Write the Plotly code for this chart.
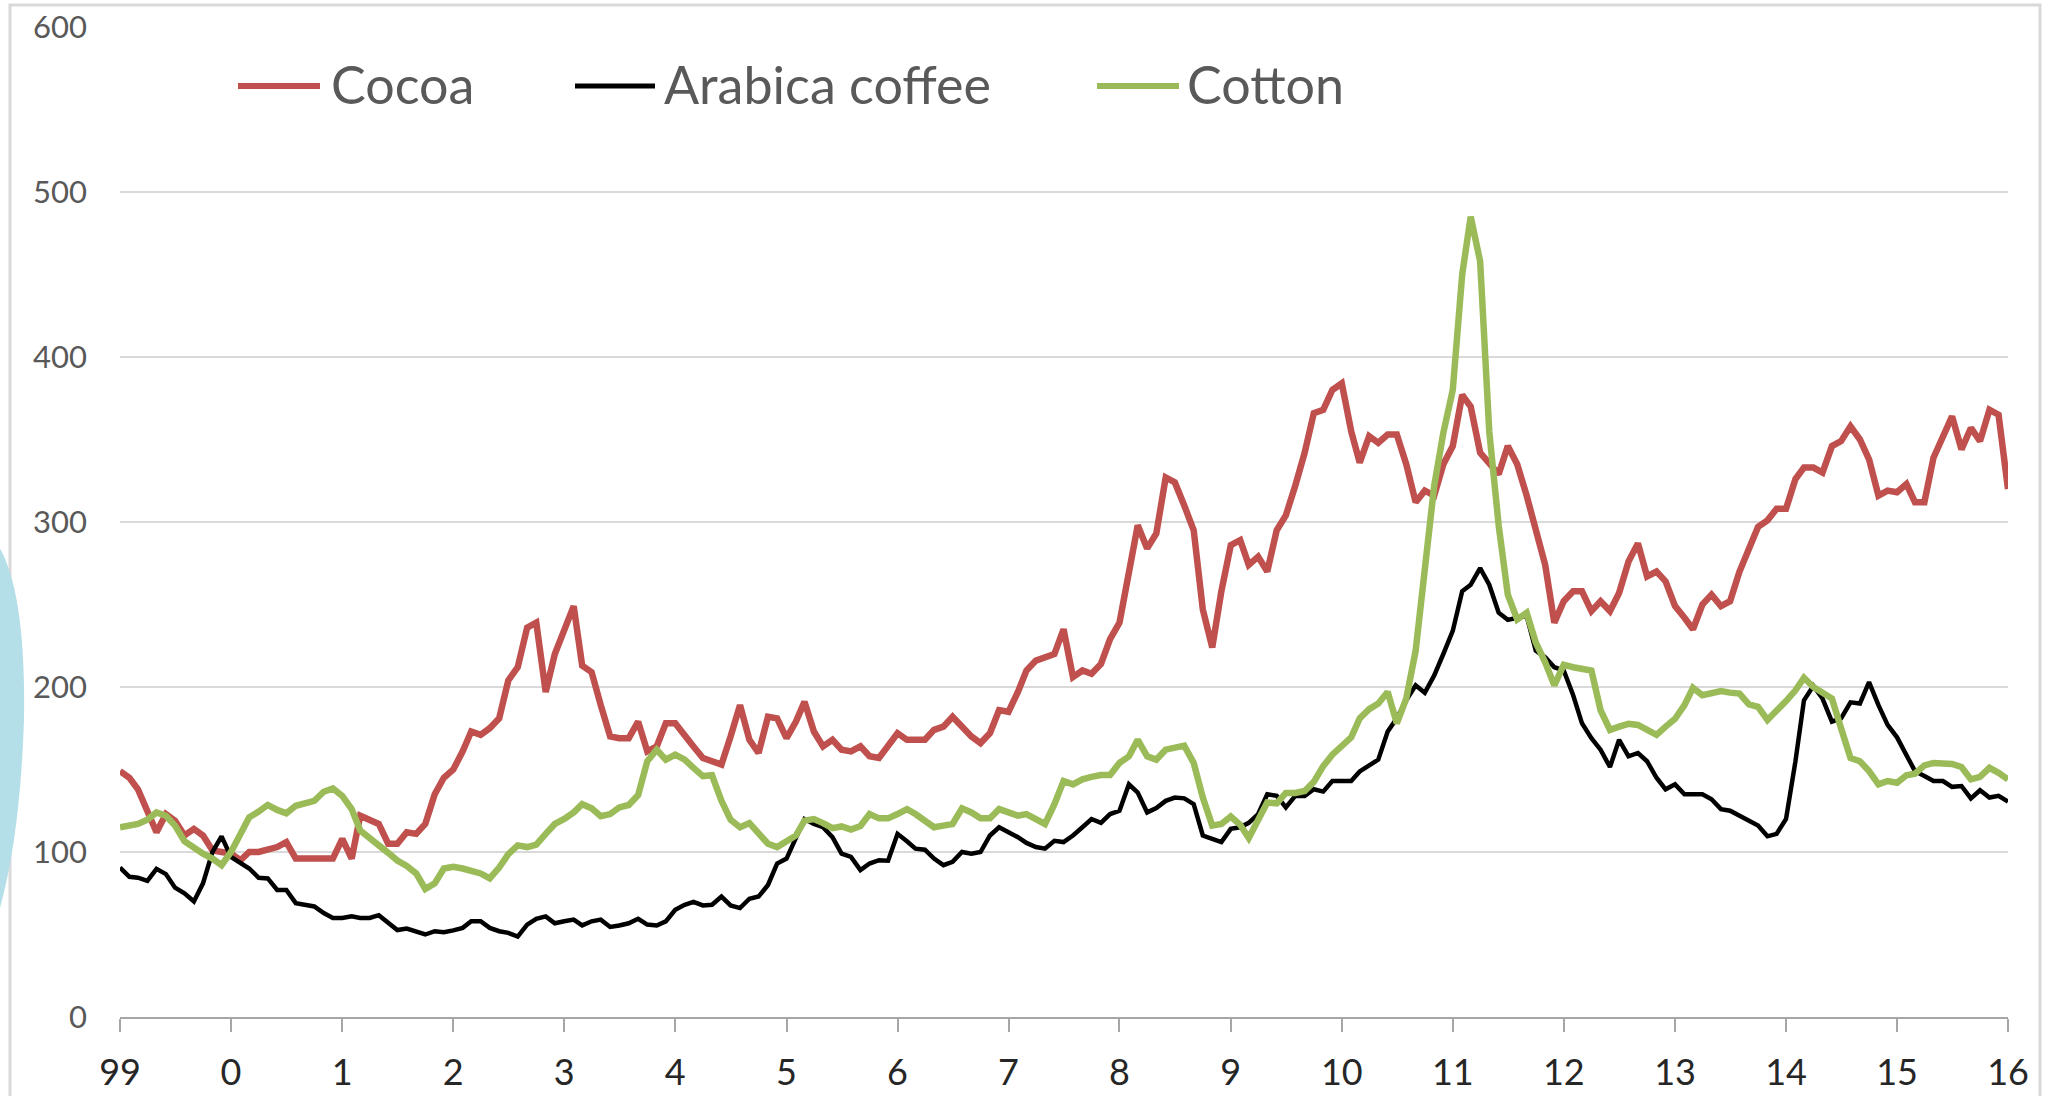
import pandas as pd
import plotly.graph_objects as go

# ---------------- data (monthly index values, Jan-1999 .. Jan-2016) ----------------
cocoa = [
    149, 145, 138, 124, 112, 123, 119, 110, 114, 110, 101, 100,      # 1999
    99, 95, 100, 100, 101, 103, 106, 96, 96, 96, 96, 96,              # 2000
    108, 96, 122, 119, 117, 105, 105, 112, 111, 117, 135, 145,        # 2001
    150, 161, 173, 171, 175, 181, 204, 212, 236, 239, 197, 220,       # 2002
    234, 249, 213, 209, 189, 170, 169, 169, 179, 161, 164, 178,       # 2003
    178, 170, 164, 157, 155, 153, 170, 189, 168, 160, 182, 181,       # 2004
    169, 179, 191, 173, 164, 168, 162, 161, 164, 158, 157, 165,       # 2005
    172, 168, 168, 168, 174, 176, 182, 176, 170, 166, 172, 186,       # 2006
    185, 197, 210, 216, 218, 220, 235, 206, 210, 208, 214, 229,       # 2007
    239, 272, 298, 284, 293, 327, 324, 310, 295, 247, 224, 258,       # 2008
    286, 289, 274, 279, 270, 295, 304, 322, 342, 366, 368, 380,       # 2009
    384, 355, 336, 352, 348, 353, 353, 335, 312, 319, 316, 335,       # 2010
    346, 377, 370, 342, 335, 329, 346, 335, 316, 295, 274, 239,       # 2011
    252, 258, 258, 246, 252, 246, 257, 276, 287, 267, 270, 264,       # 2012
    249, 242, 235, 250, 256, 249, 252, 270, 285, 297, 301, 308,       # 2013
    308, 326, 333, 333, 330, 346, 349, 358, 350, 338, 316, 319,       # 2014
    318, 323, 312, 312, 339, 353, 364, 344, 357, 349, 368, 365,       # 2015
    320,                                                              # 2016
]
arabica_coffee = [
    90.6, 85, 84.4, 82.5, 89.8, 86.6, 78.4, 75, 70, 81, 100, 109.5,
    97, 93, 90, 84.4, 84, 77, 77, 69, 68, 67, 63, 60,
    60, 61, 60, 60, 61.7, 56.8, 52.7, 53.6, 52, 50, 52, 51.4,
    52.5, 54, 58, 58, 54, 52, 51, 48.7, 56, 59.5, 61, 56.8,
    58, 59, 55.5, 58, 59, 54.6, 55.5, 56.8, 59.5, 56, 55.5, 58,
    65, 68, 69.8, 67.6, 68, 73, 67.6, 66, 71.7, 73, 80, 93,
    96, 108, 120, 117, 115, 109, 99, 97, 89, 93, 95, 94.7,
    111, 106.5, 102, 101.4, 96, 92, 94, 100, 99, 100, 110, 115,
    112, 109, 105.5, 103, 102, 106.8, 106, 110, 115, 120, 117.7, 123,
    125, 141, 136, 124, 126.6, 131, 133, 132.5, 129, 110, 108, 106,
    114, 115, 117.7, 123, 135, 134, 127, 134, 134, 138, 136.6, 143,
    143, 143, 148.8, 152.8, 156, 173, 181, 192, 201, 196.5, 207, 220,
    234, 258, 262, 272, 262, 245, 240.7, 242, 243, 222, 218, 212,
    210, 195, 178, 169, 162, 151.5, 168, 158, 160, 155, 145, 138,
    141, 135, 135, 135, 132, 126, 125, 122, 119.5, 116, 109.5, 111,
    120, 155, 192, 200.7, 193, 179, 181, 190.7, 190, 203, 189, 177,
    169.5, 159, 149, 146, 143, 143, 139.5, 140, 132.5, 137.4, 133, 134,
    130.5,
]
cotton = [
    115, 115.8, 117, 119.6, 124, 122, 116, 106.5, 102.5, 99, 96, 92,
    100, 112, 121, 124.5, 128.5, 125.5, 123.5, 128, 129.5, 131, 136.5, 138.5,
    134, 126, 113, 108, 104, 99.5, 94.8, 91.5, 87, 77.6, 81, 90,
    91, 90, 88.7, 87, 84, 90.6, 98.7, 104, 103, 104.5, 111, 117,
    120, 124, 129, 126.5, 121.7, 123, 127, 128.5, 134.5, 155, 162, 156,
    159, 156, 151, 146, 146.5, 131, 119.6, 115, 117.5, 111.5, 105, 103,
    106.5, 110, 119, 120, 117.5, 114.5, 115.5, 113.6, 115.8, 123, 120.4, 120.4,
    123, 126, 123, 119.5, 115, 116, 117, 126.5, 124, 120.5, 120.5, 126,
    124, 122, 123, 120.5, 117, 129, 143, 141, 144, 145.5, 146.6, 146.6,
    154, 158, 168, 158, 156, 162, 163.6, 164.5, 154, 133, 116, 117,
    121.5, 116.5, 108.5, 119, 130, 129.5, 135.8, 135.8, 137, 142.5, 152, 159,
    164, 169.5, 181, 186.6, 190, 197, 178, 193, 222, 275, 322, 354,
    380, 450, 485, 458, 355, 298, 256, 241, 245, 227, 215, 201,
    213.5, 212, 211, 210, 186, 174, 176, 177.7, 177, 173.6, 171, 176,
    180.7, 189, 199.5, 195, 196, 197.5, 196.6, 196, 189.5, 188, 180, 185,
    191.5, 198, 205.6, 200, 196.5, 193, 175, 157, 155, 149, 141, 143,
    142, 146.5, 147.5, 152.5, 154, 153.6, 153.4, 151.5, 144, 145.5, 151, 148,
    144,
]
series_names = ["Cocoa", "Arabica coffee", "Cotton"]
tick_years = list(range(1999, 2017))
tick_labels = ["99", "0", "1", "2", "3", "4", "5", "6", "7", "8", "9",
               "10", "11", "12", "13", "14", "15", "16"]

months = pd.date_range("1999-01-01", periods=len(cocoa), freq="MS")
tick_vals = [pd.Timestamp(f"{y}-01-01") for y in tick_years]

# ---------------- layout constants ----------------
W, H = 2065, 1096
L, R, T, B = 120, 57, 27, 79
PW, PH = W - L - R, H - T - B


def px_x(px):
    return (px - L) / PW


def px_y(py):
    return (H - B - py) / PH


colors = ["#c0504d", "#000000", "#9bbb59"]
widths = [6.5, 4.5, 6.5]
FONT = "Lato, 'Open Sans', sans-serif"

fig = go.Figure()
for name, vals, c, w in zip(series_names, [cocoa, arabica_coffee, cotton], colors, widths):
    fig.add_trace(go.Scatter(x=months, y=vals, mode="lines", name=name,
                             line=dict(color=c, width=w), showlegend=False))

shapes = []
annotations = []
# chart-area frame
shapes.append(dict(type="rect", xref="paper", yref="paper",
                   x0=px_x(10), x1=px_x(2040), y0=px_y(1120), y1=px_y(5),
                   line=dict(color="#d9d9d9", width=3), fillcolor="rgba(0,0,0,0)",
                   layer="below"))
# light blue decoration at the left edge
shapes.append(dict(type="path", xref="paper", yref="paper",
                   path=(f"M {px_x(-2)},{px_y(545)} "
                         f"Q {px_x(26)},{px_y(590)} {px_x(24)},{px_y(720)} "
                         f"Q {px_x(20)},{px_y(840)} {px_x(-2)},{px_y(915)} Z"),
                   fillcolor="#b4dfe8", line=dict(width=0), layer="below"))

# custom legend
leg = [(238, 320, 329), (575, 655, 662), (1097, 1179, 1185)]
for (lx0, lx1, tx), name, c, w in zip(leg, series_names, colors, widths):
    shapes.append(dict(type="line", xref="paper", yref="paper",
                       x0=px_x(lx0), x1=px_x(lx1), y0=px_y(86), y1=px_y(86),
                       line=dict(color=c, width=6 if w > 5 else 5)))
    annotations.append(dict(text=name, xref="paper", yref="paper",
                            x=px_x(tx), y=px_y(84), xanchor="left", yanchor="middle",
                            showarrow=False,
                            font=dict(family=FONT, size=52, color="#595959")))

fig.update_layout(
    width=W, height=H,
    margin=dict(l=L, r=R, t=T, b=B, pad=0, autoexpand=False),
    paper_bgcolor="white", plot_bgcolor="white",
    shapes=shapes, annotations=annotations,
    showlegend=False,
    xaxis=dict(
        type="date", automargin=False,
        range=[months[0], months[-1]],
        tickmode="array", tickvals=tick_vals, ticktext=tick_labels,
        showgrid=False, zeroline=False,
        showline=True, linecolor="#a6a6a6", linewidth=2,
        ticks="outside", ticklen=13, tickwidth=2, tickcolor="#a6a6a6",
        tickfont=dict(family=FONT, size=36, color="#262626"),
        ticklabelstandoff=10,
    ),
    yaxis=dict(
        range=[0, 600], dtick=100, tick0=0, automargin=False,
        showgrid=True, gridcolor="#d9d9d9", gridwidth=1.5,
        zeroline=False, showline=False, ticks="",
        tickfont=dict(family=FONT, size=31, color="#595959"),
        ticklabelstandoff=32,
    ),
)

fig.write_html("out.html", include_plotlyjs=True,
               config={"displayModeBar": False},
               post_script="document.body.style.margin='0px';")
